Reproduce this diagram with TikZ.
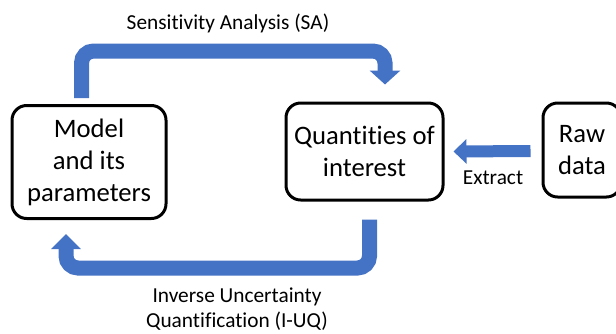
\documentclass[tikz,border=0pt]{standalone}
\usepackage{fontspec}
\setmainfont{Carlito}[Ligatures=NoCommon]
\usetikzlibrary{arrows.meta,calc}

\definecolor{flowblue}{RGB}{68,114,196}
\tikzset{every picture/.style={line width=0.75pt}}
\tikzset{
  box/.style={draw, line width=2.25pt, rounded corners=11pt, align=center, inner sep=0pt,
    font=\fontsize{20}{24}\selectfont},
  blockarrow/.style={draw=flowblue, line width=11.25pt, rounded corners=9pt,
    -{Triangle[width=22.5pt,length=10.5pt]}},
  lbl/.style={inner sep=0.75pt, align=center, font=\fontsize{16}{19}\selectfont}
}

\begin{document}
\begin{tikzpicture}[x=0.75pt,y=0.75pt,yscale=-1,xscale=1]
\useasboundingbox (0,0) rectangle (616,333);
\clip (0,0) rectangle (616,333);

%Rounded Rect [model]
\node[box, minimum width=115.5pt, minimum height=84.75pt] (model) at (89,162) {Model\\and its\\parameters};
%Rounded Rect [qoi]
\node[box, minimum width=117.75pt, minimum height=72.75pt] (qoi) at (364.5,151.5) {Quantities of\\interest};
%Rounded Rect [raw]
\node[box, minimum width=58.5pt, minimum height=70.5pt] (raw) at (582,150) {Raw\\data};

%Block Arrow [sa]
\draw[blockarrow] ($(model.north)+(-7.5,-6)$) |- ($(qoi.north)+(20.5,-50.5)$) -- ($(qoi.north)+(20.5,-17)$);
%Block Arrow [iuq]
\draw[blockarrow, -{Triangle[width=21.75pt,length=11.25pt]}] ($(qoi.south)+(5,18)$) |- ($(model.south)+(-23,48)$) -- ($(model.south)+(-23,14)$);
%Block Arrow [extract]
\draw[blockarrow, line width=9pt, -{Triangle[width=18pt,length=9.75pt]}] ($(raw.west)+(-11,1)$) -- ($(qoi.east)+(9,0)$);

% Text Node
\node[lbl] (salbl) at (228,23) {Sensitivity Analysis (SA)};
% Text Node
\node[lbl] (extractlbl) at (493,178) {Extract};
% Text Node
\node[lbl] (iuqlbl) at (237,309) {Inverse Uncertainty\\Quantification (I-UQ)};

\end{tikzpicture}
\end{document}
